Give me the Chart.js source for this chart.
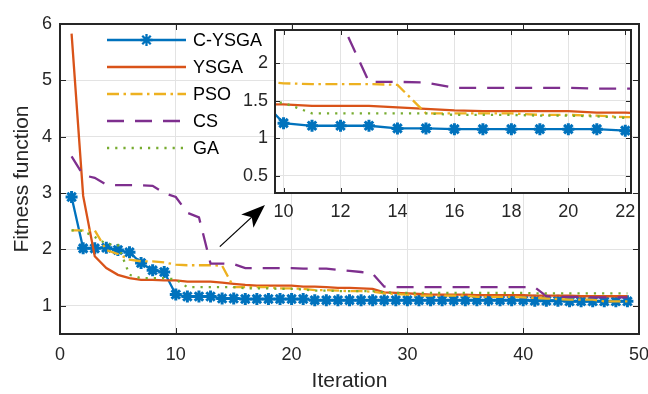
<!DOCTYPE html>
<html>
<head>
<meta charset="utf-8">
<script src="https://cdn.jsdelivr.net/npm/chart.js@4.4.1/dist/chart.umd.min.js"></script>
<style>
  html, body { margin: 0; padding: 0; background: #fff; }
  #wrap { position: relative; width: 648px; height: 394px; }
  #mainChart { position: absolute; left: 0; top: 0; }
  #zoomChart { position: absolute; left: 230px; top: 20px; }
</style>
</head>
<body>
<div id="wrap">
  <canvas id="mainChart" width="648" height="394"></canvas>
  <canvas id="zoomChart" width="410" height="205"></canvas>
</div>
<script>
// --- DATA ---
const iterations = [1, 2, 3, 4, 5, 6, 7, 8, 9, 10, 11, 12, 13, 14, 15, 16, 17, 18, 19, 20,
  21, 22, 23, 24, 25, 26, 27, 28, 29, 30, 31, 32, 33, 34, 35, 36, 37, 38, 39, 40,
  41, 42, 43, 44, 45, 46, 47, 48, 49];

const cysga = [2.93, 2.02, 2.02, 2.03, 1.99, 1.95, 1.76, 1.63, 1.60, 1.20,
  1.165, 1.165, 1.165, 1.13, 1.13, 1.12, 1.12, 1.12, 1.12, 1.12,
  1.12, 1.10, 1.10, 1.10, 1.10, 1.10, 1.10, 1.10, 1.10, 1.10,
  1.10, 1.10, 1.10, 1.10, 1.10, 1.10, 1.10, 1.10, 1.10, 1.10,
  1.09, 1.09, 1.09, 1.08, 1.08, 1.08, 1.08, 1.08, 1.08];

const ysga = [5.83, 2.95, 1.88, 1.67, 1.55, 1.49, 1.46, 1.46, 1.45, 1.45,
  1.43, 1.43, 1.43, 1.41, 1.39, 1.37, 1.36, 1.36, 1.36, 1.36,
  1.34, 1.34, 1.33, 1.32, 1.32, 1.31, 1.30, 1.24, 1.23, 1.22,
  1.21, 1.20, 1.20, 1.20, 1.20, 1.19, 1.19, 1.19, 1.19, 1.19,
  1.18, 1.18, 1.18, 1.18, 1.17, 1.17, 1.17, 1.17, 1.17];

const pso = [2.34, 2.34, 2.34, 1.99, 1.92, 1.82, 1.79, 1.79, 1.77, 1.73,
  1.72, 1.72, 1.72, 1.71, 1.33, 1.33, 1.33, 1.33, 1.31, 1.31,
  1.30, 1.28, 1.28, 1.27, 1.26, 1.26, 1.25, 1.22, 1.21, 1.20,
  1.18, 1.18, 1.18, 1.18, 1.18, 1.16, 1.16, 1.16, 1.16, 1.15,
  1.14, 1.13, 1.12, 1.11, 1.11, 1.11, 1.08, 1.08, 1.08];

const cs = [3.65, 3.32, 3.27, 3.15, 3.14, 3.14, 3.14, 3.13, 3.00, 2.93,
  2.65, 2.57, 1.75, 1.75, 1.74, 1.67, 1.67, 1.67, 1.67, 1.67,
  1.66, 1.66, 1.66, 1.64, 1.62, 1.60, 1.57, 1.34, 1.33, 1.33,
  1.33, 1.33, 1.33, 1.33, 1.33, 1.33, 1.33, 1.33, 1.33, 1.33,
  1.33, 1.17, 1.16, 1.16, 1.16, 1.15, 1.15, 1.15, 1.15];

const ga = [2.34, 2.33, 2.22, 2.10, 2.08, 1.55, 1.49, 1.49, 1.49, 1.47,
  1.33, 1.33, 1.33, 1.33, 1.33, 1.31, 1.31, 1.31, 1.30, 1.30,
  1.29, 1.27, 1.27, 1.26, 1.26, 1.26, 1.26, 1.24, 1.23, 1.23,
  1.23, 1.23, 1.23, 1.23, 1.23, 1.23, 1.23, 1.23, 1.23, 1.23,
  1.22, 1.22, 1.22, 1.22, 1.22, 1.22, 1.22, 1.22, 1.22];

const seriesNames = ['C-YSGA', 'YSGA', 'PSO', 'CS', 'GA'];

// tick positions
const mainXTicks = [0, 10, 20, 30, 40, 50];
const mainYTicks = [1, 2, 3, 4, 5, 6];
const zoomXTicks = [10, 12, 14, 16, 18, 20, 22];
const zoomYTicks = [0.5, 1, 1.5, 2];

// arrow pointing to the zoomed window (data coordinates)
const arrowFrom = [13.8, 2.05];
const arrowTo = [17.7, 2.79];

// --- STYLE ---
const FONT = "'Liberation Sans', Arial, sans-serif";
const AX = '#262626';
Chart.defaults.font.family = FONT;
Chart.defaults.color = AX;

const lineStyles = [
  { color: '#0072BD', dash: [], marker: true },
  { color: '#D95319', dash: [] },
  { color: '#EDB120', dash: [12, 4.5, 2.5, 4.5] },
  { color: '#7E2F8E', dash: [17, 11] },
  { color: '#77AC30', dash: [2.2, 6] }
];

const seriesValues = [cysga, ysga, pso, cs, ga];

function buildDatasets() {
  return seriesValues.map((vals, i) => {
    const st = lineStyles[i];
    return {
      label: seriesNames[i],
      data: iterations.map((it, k) => ({ x: it, y: vals[k] })),
      borderColor: st.color,
      backgroundColor: st.color,
      borderWidth: 2.3,
      borderDash: st.dash,
      tension: 0,
      pointStyle: 'star',
      pointRadius: st.marker ? 6 : 0,
      pointBorderWidth: 3,
      pointBorderColor: st.color,
      order: 5 - i
    };
  });
}

// box around the plot area with inward ticks
const axisBox = {
  id: 'axisBox',
  beforeDraw(chart, args, opts) {
    if (!opts.fill) return;
    const a = chart.chartArea;
    chart.ctx.save();
    chart.ctx.fillStyle = '#fff';
    chart.ctx.fillRect(a.left, a.top, a.width, a.height);
    chart.ctx.restore();
  },
  afterDatasetsDraw(chart, args, opts) {
    const { ctx, chartArea: a, scales } = chart;
    const t = opts.tickLen || 5;
    ctx.save();
    ctx.strokeStyle = AX;
    ctx.lineWidth = 1;
    ctx.beginPath();
    scales.x.ticks.forEach(tk => {
      const px = Math.round(scales.x.getPixelForValue(tk.value)) + 0.5;
      ctx.moveTo(px, a.bottom); ctx.lineTo(px, a.bottom - t);
      ctx.moveTo(px, a.top); ctx.lineTo(px, a.top + t);
    });
    scales.y.ticks.forEach(tk => {
      const py = Math.round(scales.y.getPixelForValue(tk.value)) + 0.5;
      ctx.moveTo(a.left, py); ctx.lineTo(a.left + t, py);
      ctx.moveTo(a.right, py); ctx.lineTo(a.right - t, py);
    });
    ctx.stroke();
    ctx.lineWidth = 2;
    ctx.strokeRect(a.left, a.top, a.width, a.height);
    ctx.restore();
  }
};

// legend with long line samples, no frame
const lineLegend = {
  id: 'lineLegend',
  afterDraw(chart) {
    const ctx = chart.ctx;
    const x0 = 107, x1 = 186, tx = 193, y0 = 40, dy = 27;
    ctx.save();
    ctx.font = '18px ' + FONT;
    ctx.textBaseline = 'middle';
    chart.data.datasets.forEach((ds, i) => {
      const y = y0 + i * dy;
      ctx.strokeStyle = ds.borderColor;
      ctx.lineWidth = ds.borderWidth;
      ctx.setLineDash(ds.borderDash);
      ctx.beginPath();
      ctx.moveTo(x0, y);
      ctx.lineTo(x1, y);
      ctx.stroke();
      ctx.setLineDash([]);
      if (ds.pointRadius > 0) {
        Chart.helpers.drawPoint(ctx, {
          pointStyle: 'star', radius: ds.pointRadius, borderWidth: ds.pointBorderWidth, rotation: 0
        }, (x0 + x1) / 2, y);
      }
      ctx.fillStyle = '#000';
      ctx.fillText(ds.label, tx, y + 1);
    });
    ctx.restore();
  }
};

// arrow from the curves to the zoomed window
const zoomArrow = {
  id: 'zoomArrow',
  afterDraw(chart) {
    const { ctx, scales } = chart;
    const sx = scales.x.getPixelForValue(arrowFrom[0]);
    const sy = scales.y.getPixelForValue(arrowFrom[1]);
    const ex = scales.x.getPixelForValue(arrowTo[0]);
    const ey = scales.y.getPixelForValue(arrowTo[1]);
    const len = Math.hypot(ex - sx, ey - sy);
    const ux = (ex - sx) / len, uy = (ey - sy) / len;
    const nx = -uy, ny = ux;
    const hl = 24, hw = 9;
    const bx = ex - ux * hl, by = ey - uy * hl;
    ctx.save();
    ctx.strokeStyle = '#000';
    ctx.fillStyle = '#000';
    ctx.lineWidth = 1.3;
    ctx.beginPath();
    ctx.moveTo(sx, sy);
    ctx.lineTo(ex - ux * 18, ey - uy * 18);
    ctx.stroke();
    ctx.beginPath();
    ctx.moveTo(ex, ey);
    ctx.lineTo(bx + nx * hw, by + ny * hw);
    ctx.lineTo(ex - ux * 18, ey - uy * 18);
    ctx.lineTo(bx - nx * hw, by - ny * hw);
    ctx.closePath();
    ctx.fill();
    ctx.restore();
  }
};

function fixedTicks(list) {
  return scale => { scale.ticks = list.map(v => ({ value: v })); };
}

const plainLabel = v => String(v);

// --- MAIN CHART ---
new Chart(document.getElementById('mainChart'), {
  type: 'line',
  data: { datasets: buildDatasets() },
  plugins: [axisBox, lineLegend, zoomArrow],
  options: {
    responsive: false,
    animation: false,
    layout: { padding: { top: 24, right: 8, left: 0, bottom: 0 } },
    plugins: {
      legend: { display: false },
      tooltip: { enabled: false },
      axisBox: { tickLen: 6 }
    },
    scales: {
      x: {
        type: 'linear', min: 0, max: 50,
        afterBuildTicks: fixedTicks(mainXTicks),
        afterFit: s => { s.height = 60; s.paddingLeft = 0; s.paddingRight = 0; },
        border: { display: false },
        grid: { color: '#e3e3e3', drawTicks: false },
        ticks: { font: { size: 18 }, padding: 10, maxRotation: 0, autoSkip: false, callback: plainLabel },
        title: { display: true, text: 'Iteration', font: { size: 21 }, padding: { top: 0, bottom: 0 } }
      },
      y: {
        type: 'linear', min: 0.5, max: 6,
        afterBuildTicks: fixedTicks(mainYTicks),
        afterFit: s => { s.width = 60; s.paddingTop = 0; s.paddingBottom = 0; },
        border: { display: false },
        grid: { color: '#e3e3e3', drawTicks: false },
        ticks: { font: { size: 18 }, padding: 8, autoSkip: false, callback: plainLabel },
        title: { display: true, text: 'Fitness function', font: { size: 21 }, padding: { top: 10, bottom: 0 } }
      }
    }
  }
});

// --- ZOOMED WINDOW (iterations 10-22) ---
new Chart(document.getElementById('zoomChart'), {
  type: 'line',
  data: { datasets: buildDatasets() },
  plugins: [axisBox],
  options: {
    responsive: false,
    animation: false,
    layout: { padding: { top: 10, right: 6, left: 0, bottom: 0 } },
    plugins: {
      legend: { display: false },
      tooltip: { enabled: false },
      axisBox: { tickLen: 5, fill: true }
    },
    scales: {
      x: {
        type: 'linear', min: 9.7, max: 22.2,
        afterBuildTicks: fixedTicks(zoomXTicks),
        afterFit: s => { s.height = 32; s.paddingLeft = 0; s.paddingRight = 0; },
        border: { display: false },
        grid: { color: '#e3e3e3', drawTicks: false },
        ticks: { font: { size: 18 }, padding: 8, maxRotation: 0, autoSkip: false, callback: plainLabel }
      },
      y: {
        type: 'linear', min: 0.27, max: 2.44,
        afterBuildTicks: fixedTicks(zoomYTicks),
        afterFit: s => { s.width = 45; s.paddingTop = 0; s.paddingBottom = 0; },
        border: { display: false },
        grid: { color: '#e3e3e3', drawTicks: false },
        ticks: { font: { size: 18 }, padding: 7, autoSkip: false, callback: plainLabel }
      }
    }
  }
});
</script>
</body>
</html>
